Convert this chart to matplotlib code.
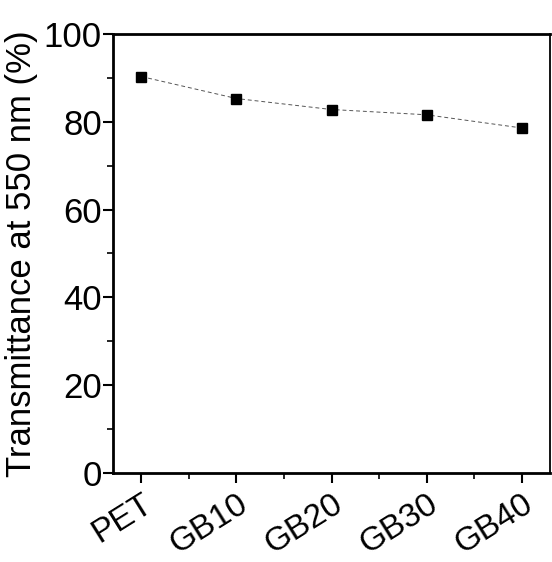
import matplotlib.pyplot as plt
from matplotlib.ticker import MultipleLocator

plt.rcParams['font.family'] = ['Liberation Sans', 'DejaVu Sans']

# Daten
samples = ["PET", "GB10", "GB20", "GB30", "GB40"]
transmittance = [90.3, 85.3, 82.8, 81.6, 78.6]

fig = plt.figure(figsize=(5.52, 5.62), dpi=100)
ax = fig.add_axes([0.2047, 0.1584, 0.7917, 0.7811])

x = list(range(len(samples)))
ax.plot(x, transmittance, color="#555555", lw=0.7, linestyle=(0, (4, 3)),
        marker="s", markersize=6.5, markerfacecolor="black", markeredgecolor="black")

ax.set_xlim(-0.3, 4.3)
ax.set_ylim(0, 100)
ax.set_xticks(x)
ax.set_xticklabels(samples, rotation=32, ha="right", rotation_mode="anchor")
ax.xaxis.set_minor_locator(MultipleLocator(0.5))
ax.yaxis.set_major_locator(MultipleLocator(20))
ax.yaxis.set_minor_locator(MultipleLocator(10))

ax.tick_params(which="major", direction="out", length=7, width=1.5, labelsize=25, pad=1)
ax.tick_params(axis="x", which="major", pad=4, labelsize=24)
ax.tick_params(which="minor", direction="out", length=4, width=1.2)
ax.tick_params(axis="x", which="both", top=False)
ax.tick_params(axis="y", which="both", right=False)

for side in ["left", "bottom", "top"]:
    ax.spines[side].set_linewidth(2)
ax.spines["right"].set_linewidth(1.3)

ax.set_ylabel("Transmittance at 550 nm (%)", fontsize=25, labelpad=4)

fig.savefig("out.png", dpi=100)
